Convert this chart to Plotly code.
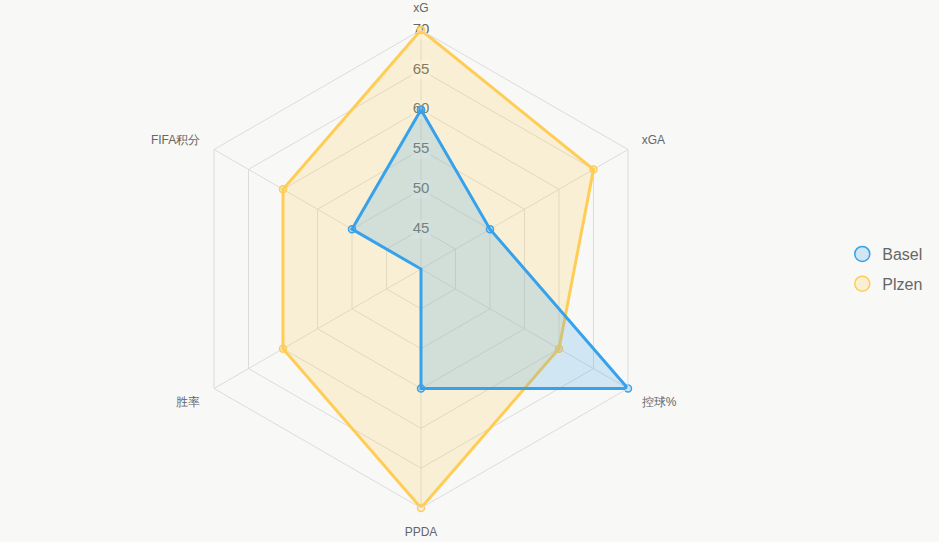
import plotly.graph_objects as go

categories = ["xG", "xGA", "控球%", "PPDA", "胜率", "FIFA积分"]
basel = [60, 50, 70, 55, 40, 50]
plzen = [70, 65, 60, 70, 60, 60]
radial_ticks = [45, 50, 55, 60, 65, 70]
radial_labels = [str(v) for v in radial_ticks]

W, H = 939, 542
cx, cy, R = 421, 269, 239

fig = go.Figure()

def closed(v):
    return v + v[:1]

# radial tick labels centred on the top spoke, with backdrop (drawn under data)
fig.add_trace(go.Scatterpolar(
    r=radial_ticks, theta=[categories[0]] * len(radial_ticks),
    mode="markers+text", text=radial_labels, textposition="middle center",
    textfont=dict(size=15, color="#666"),
    marker=dict(symbol="square", size=19, color="rgba(255,255,255,0.55)", line=dict(width=0)),
    showlegend=False, hoverinfo="skip"))

# Plzen drawn first (underneath), Basel on top
fig.add_trace(go.Scatterpolar(
    r=closed(plzen), theta=closed(categories), name="Plzen",
    mode="lines+markers", fill="toself",
    fillcolor="rgba(255,205,86,0.2)",
    line=dict(color="#ffcd56", width=3),
    marker=dict(size=7, color="rgba(255,205,86,0.2)", line=dict(color="#ffcd56", width=1.5)),
    showlegend=False, hoverinfo="skip"))
fig.add_trace(go.Scatterpolar(
    r=closed(basel), theta=closed(categories), name="Basel",
    mode="lines+markers", fill="toself",
    fillcolor="rgba(54,162,235,0.2)",
    line=dict(color="#36a2eb", width=3),
    marker=dict(size=7, color="rgba(54,162,235,0.2)", line=dict(color="#36a2eb", width=1.5)),
    showlegend=False, hoverinfo="skip"))

# legend entries
for name, c, f in [("Basel", "#36a2eb", "rgba(54,162,235,0.2)"), ("Plzen", "#ffcd56", "rgba(255,205,86,0.2)")]:
    fig.add_trace(go.Scatterpolar(
        r=[None], theta=[categories[0]], name=name, mode="markers", legendgroup=name,
        marker=dict(size=15, color=f, line=dict(color=c, width=1.5)),
        showlegend=True))

fig.update_layout(
    width=W, height=H,
    margin=dict(l=0, r=0, t=cy - R, b=H - cy - R),
    paper_bgcolor="#f8f8f6",
    plot_bgcolor="#f8f8f6",
    font=dict(family="Liberation Sans, Arial, sans-serif", color="#666"),
    polar=dict(
        domain=dict(x=[(cx - R) / W, (cx + R) / W], y=[0, 1]),
        bgcolor="rgba(0,0,0,0)",
        gridshape="linear",
        radialaxis=dict(
            range=[40, 70], tickvals=radial_ticks, angle=90,
            showline=False, ticks="", showticklabels=False,
            gridcolor="#dcdcdc", gridwidth=1,
        ),
        angularaxis=dict(
            rotation=90, direction="clockwise",
            gridcolor="#dcdcdc", linecolor="#dcdcdc", linewidth=1,
            ticks="outside", ticklen=13, tickcolor="rgba(0,0,0,0)",
            tickfont=dict(size=12, color="#666"),
        ),
    ),
    legend=dict(x=0.897, y=0.5, xanchor="left", yanchor="middle",
                font=dict(size=16, color="#666"), bgcolor="rgba(0,0,0,0)",
                itemsizing="trace", tracegroupgap=6),
)

fig.write_html("out.html")
